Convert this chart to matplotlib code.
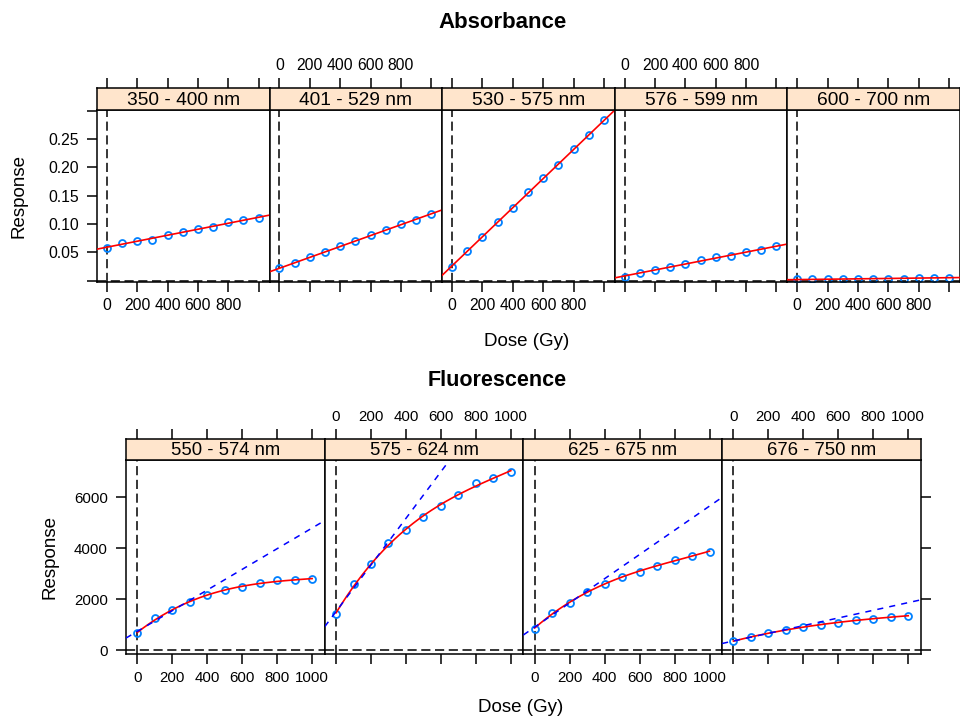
import numpy as np
import matplotlib.pyplot as plt

plt.rcParams['font.family'] = ['Liberation Sans', 'DejaVu Sans']

# dose levels (Gy)
dose = [0, 100, 200, 300, 400, 500, 600, 700, 800, 900, 1000]

# absorbance panels
abs_bands = ['350 - 400 nm', '401 - 529 nm', '530 - 575 nm', '576 - 599 nm', '600 - 700 nm']
abs_350_400 = [0.058, 0.067, 0.070, 0.072, 0.081, 0.086, 0.091, 0.094, 0.103, 0.108, 0.111]
abs_401_529 = [0.022, 0.031, 0.041, 0.050, 0.061, 0.070, 0.081, 0.089, 0.100, 0.108, 0.117]
abs_530_575 = [0.025, 0.053, 0.078, 0.103, 0.128, 0.156, 0.181, 0.204, 0.232, 0.257, 0.283]
abs_576_599 = [0.007, 0.014, 0.019, 0.024, 0.030, 0.036, 0.041, 0.044, 0.050, 0.055, 0.061]
abs_600_700 = [0.0022, 0.0025, 0.0030, 0.0028, 0.0028, 0.0030, 0.0030, 0.0032, 0.0055, 0.0055, 0.0055]

# fluorescence panels
fl_bands = ['550 - 574 nm', '575 - 624 nm', '625 - 675 nm', '676 - 750 nm']
fl_550_574 = [655, 1244, 1572, 1899, 2161, 2344, 2462, 2620, 2751, 2751, 2790]
fl_575_624 = [1401, 2580, 3366, 4191, 4715, 5213, 5658, 6103, 6574, 6745, 7006]
fl_625_675 = [838, 1467, 1860, 2292, 2580, 2855, 3078, 3314, 3537, 3707, 3864]
fl_676_750 = [354, 498, 668, 800, 891, 996, 1074, 1179, 1231, 1284, 1349]

abs_ticks = [0, 0.05, 0.10, 0.15, 0.20, 0.25, 0.30]
abs_ticklabels = ['', '0.05', '0.10', '0.15', '0.20', '0.25', '']
fl_ticks = [0, 2000, 4000, 6000]
fl_ticklabels = ['0', '2000', '4000', '6000']
x_ticks = [0, 200, 400, 600, 800, 1000]
abs_xlabels = ['0', '200', '400', '600', '800', '']
fl_xlabels = ['0', '200', '400', '600', '800', '1000']

W, H = 960, 717
fig = plt.figure(figsize=(W / 100, H / 100), dpi=100)
XLIM = (-65, 1072)
STRIP = '#ffe5cc'
PTS = '#0080ff'


def px_axes(x0, y0, x1, y1):
    # pixel box, origin top-left
    return fig.add_axes([x0 / W, 1 - y1 / H, (x1 - x0) / W, (y1 - y0) / H])


def draw_row(bands, series, left, width, strip_top, top, bottom, ylim,
             yticks, yticklabels, xlabels, fsize, fluor):
    x = np.array(dose, dtype=float)
    n = len(bands)
    for i, (band, y) in enumerate(zip(bands, series)):
        y = np.array(y, dtype=float)
        x0 = left + i * width
        ax = px_axes(x0, top, x0 + width, bottom)
        st = px_axes(x0, strip_top, x0 + width, top)

        ax.set_xlim(XLIM)
        ax.set_ylim(ylim)
        ax.axvline(0, color='black', lw=1.1, dashes=(6, 3), zorder=1)
        ax.axhline(0, color='black', lw=1.1, dashes=(6, 3), zorder=1)
        ax.plot(x, y, 'o', mfc='none', mec=PTS, ms=5, mew=1.3, zorder=2)
        xx = np.linspace(XLIM[0], XLIM[1], 200)
        if fluor:
            # smooth fit through the points plus initial linear trend
            c = np.polyfit(x, y, 3)
            xc = np.linspace(0, 1000, 200)
            ax.plot(xc, np.polyval(c, xc), color='red', lw=1.2, zorder=3)
            b = np.polyfit(x[:4], y[:4], 1)
            ax.plot(xx, np.polyval(b, xx), color='blue', lw=1.1,
                    dashes=(4, 4), zorder=4)
        else:
            b = np.polyfit(x, y, 1)
            ax.plot(xx, np.polyval(b, xx), color='red', lw=1.2, zorder=3)

        for s in ax.spines.values():
            s.set_linewidth(1.1)
        ax.set_xticks(x_ticks)
        ax.set_xticklabels(xlabels)
        ax.tick_params(axis='x', direction='out', length=7, width=1.1,
                       bottom=True, top=False, labelbottom=(i % 2 == 0),
                       labelsize=fsize, pad=5)
        ax.set_yticks(yticks)
        ax.set_yticklabels(yticklabels)
        ax.tick_params(axis='y', direction='out', length=7, width=1.1,
                       left=(i == 0), right=(i == n - 1),
                       labelleft=(i == 0), labelright=False,
                       labelsize=fsize, pad=6)

        st.set_facecolor(STRIP)
        st.set_xlim(XLIM)
        st.set_ylim(0, 1)
        st.set_yticks([])
        st.set_xticks(x_ticks)
        st.set_xticklabels(xlabels)
        st.tick_params(axis='x', direction='out', length=7, width=1.1,
                       bottom=False, top=True, labelbottom=False,
                       labeltop=(i % 2 == 1), labelsize=fsize, pad=4)
        for s in st.spines.values():
            s.set_linewidth(1.1)
        st.text(0.5, 0.45, band, transform=st.transAxes, ha='center',
                va='center', fontsize=fsize + 2.5)


# --- Absorbance ---
draw_row(abs_bands, [abs_350_400, abs_401_529, abs_530_575, abs_576_599, abs_600_700],
         97, 172.6, 88, 110, 281.5, (-0.0015, 0.3015),
         abs_ticks, abs_ticklabels, abs_xlabels, 11.3, False)
fig.text(503 / W, 1 - 22 / H, 'Absorbance', ha='center', va='center',
         fontsize=16, fontweight='bold')
fig.text(527 / W, 1 - 341 / H, 'Dose (Gy)', ha='center', va='center', fontsize=13.5)
fig.text(19 / W, 1 - 196 / H, 'Response', ha='center', va='center',
         rotation=90, fontsize=13.5)

# --- Fluorescence ---
draw_row(fl_bands, [fl_550_574, fl_575_624, fl_625_675, fl_676_750],
         126, 198.7, 439, 460, 654, (-157, 7466),
         fl_ticks, fl_ticklabels, fl_xlabels, 10.8, True)
fig.text(497 / W, 1 - 380 / H, 'Fluorescence', ha='center', va='center',
         fontsize=15.5, fontweight='bold')
fig.text(521 / W, 1 - 708 / H, 'Dose (Gy)', ha='center', va='center', fontsize=13.5)
fig.text(50 / W, 1 - 557 / H, 'Response', ha='center', va='center',
         rotation=90, fontsize=13.5)

fig.savefig('out.png', dpi=100)
